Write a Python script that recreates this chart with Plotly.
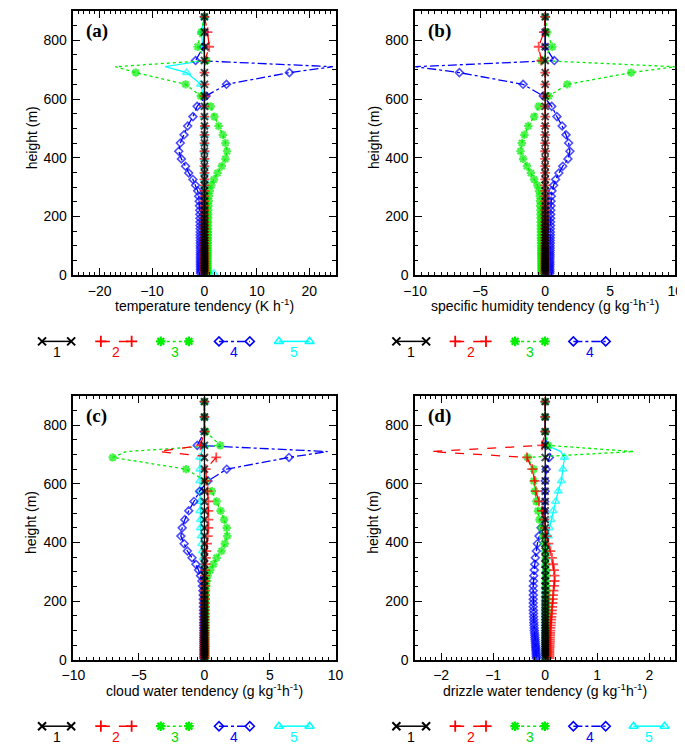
import plotly.graph_objects as go

# ---------------- data ----------------
HEIGHT = [880, 828, 778, 731, 710, 690, 650, 610, 575, 540,
          508, 478, 450, 422, 396, 371, 348, 326, 306, 287,
          269, 252, 236, 221, 207, 194, 181, 169, 158, 147,
          137, 127, 118, 109, 100, 92, 84, 76, 69, 62,
          55, 48, 42, 36, 30, 24, 18, 12, 6]

SERIES_NAMES = ["1", "2", "3", "4", "5"]

# (a) temperature tendency (K h-1)
A1 = [0.0, 0.0, 0.1, 0.0, 0.0, 0.0, 0.0, 0.0, 0.0, 0.0,
      0.0, 0.0, 0.0, 0.0, 0.0, 0.0, 0.0, 0.0, 0.0, 0.0,
      0.0, 0.0, 0.0, 0.0, 0.0, 0.0, 0.0, 0.0, 0.0, 0.0,
      0.0, 0.0, 0.0, 0.0, 0.0, 0.0, 0.0, 0.0, 0.0, 0.0,
      0.0, 0.0, 0.0, 0.0, 0.0, 0.0, 0.0, 0.0, 0.0]
A2 = [0.0, 0.6, 0.9, 0.1, 0.0, 0.0, 0.0, 0.0, 0.0, 0.0,
      0.1, 0.0, 0.0, 0.0, 0.0, 0.0, 0.0, 0.0, 0.0, 0.0,
      0.0, 0.0, 0.0, 0.0, 0.0, 0.0, 0.0, 0.0, 0.0, 0.0,
      0.0, 0.0, 0.0, 0.0, 0.0, 0.0, 0.0, 0.0, 0.0, 0.0,
      0.0, 0.0, 0.0, 0.0, 0.0, 0.0, 0.0, 0.0, 0.0]
A3 = [0.0, -0.6, -1.3, 0.4, -17.0, -13.1, -3.6, -0.7, 1.2, 1.9,
      2.7, 3.5, 4.0, 4.3, 4.0, 3.3, 2.5, 1.8, 1.3, 1.0,
      0.85, 0.8, 0.75, 0.72, 0.7, 0.7, 0.68, 0.67, 0.66, 0.65,
      0.65, 0.64, 0.64, 0.63, 0.63, 0.62, 0.62, 0.62, 0.61, 0.61,
      0.6, 0.6, 0.6, 0.6, 0.6, 0.6, 0.6, 0.6, 0.6]
A4 = [0.0, 0.0, -0.2, -1.7, 24.5, 16.2, 4.2, 0.3, -1.4, -2.2,
      -3.2, -3.9, -4.6, -4.9, -4.4, -3.6, -3.0, -2.2, -1.7, -1.3,
      -1.1, -1.0, -0.95, -0.9, -0.88, -0.86, -0.85, -0.84, -0.83, -0.82,
      -0.82, -0.81, -0.8, -0.8, -0.8, -0.79, -0.79, -0.78, -0.78, -0.78,
      -0.77, -0.77, -0.76, -0.76, -0.76, -0.75, -0.75, -0.75, -0.75]
A5 = [0.0, -0.6, -0.3, 0.0, -7.5, -3.4, -0.7, -0.2, 0.0, 0.0,
      0.0, 0.0, 0.0, 0.0, 0.0, 0.0, 0.0, 0.0, 0.0, 0.0,
      0.0, 0.0, 0.0, 0.0, 0.0, 0.0, 0.0, 0.0, 0.0, 0.0,
      0.0, 0.0, 0.0, 0.0, 0.0, 0.0, 0.0, 0.0, 0.0, 0.0,
      0.0, 0.0, 0.0, 0.0, 0.0, 0.0, 0.0, 0.0, 1.8]

# (b) specific humidity tendency (g kg-1 h-1)
B1 = [0.0, 0.0, 0.0, 0.0, 0.0, 0.0, 0.0, 0.0, 0.0, 0.0,
      0.0, 0.0, 0.0, 0.0, 0.0, 0.0, 0.0, 0.0, 0.0, 0.0,
      0.0, 0.0, 0.0, 0.0, 0.0, 0.0, 0.0, 0.0, 0.0, 0.0,
      0.0, 0.0, 0.0, 0.0, 0.0, 0.0, 0.0, 0.0, 0.0, 0.0,
      0.0, 0.0, 0.0, 0.0, 0.0, 0.0, 0.0, 0.0, 0.0]
B2 = [0.0, -0.1, -0.5, -0.3, 0.0, 0.0, 0.0, 0.0, 0.0, 0.0,
      0.0, 0.0, 0.0, 0.0, 0.0, 0.0, 0.0, 0.0, 0.0, 0.0,
      0.0, 0.0, 0.0, 0.0, 0.0, 0.0, 0.0, 0.0, 0.0, 0.0,
      0.0, 0.0, 0.0, 0.0, 0.0, 0.0, 0.0, 0.0, 0.0, 0.0,
      0.0, 0.0, 0.0, 0.0, 0.0, 0.0, 0.0, 0.0, 0.0]
B3 = [0.0, 0.15, 0.55, -0.3, 10.0, 6.6, 1.7, 0.27, -0.5, -0.85,
      -1.3, -1.6, -1.8, -1.9, -1.7, -1.4, -1.1, -0.85, -0.6, -0.48,
      -0.42, -0.4, -0.38, -0.37, -0.36, -0.35, -0.35, -0.34, -0.34, -0.33,
      -0.33, -0.33, -0.32, -0.32, -0.32, -0.31, -0.31, -0.31, -0.3, -0.3,
      -0.3, -0.3, -0.29, -0.29, -0.29, -0.29, -0.28, -0.28, -0.28]
B4 = [0.0, 0.0, 0.0, 0.7, -10.0, -6.6, -1.7, -0.15, 0.5, 0.9,
      1.3, 1.6, 1.8, 1.9, 1.75, 1.35, 1.05, 0.8, 0.65, 0.52,
      0.47, 0.45, 0.44, 0.43, 0.42, 0.42, 0.41, 0.41, 0.4, 0.4,
      0.4, 0.39, 0.39, 0.39, 0.38, 0.38, 0.38, 0.37, 0.37, 0.37,
      0.36, 0.36, 0.36, 0.36, 0.35, 0.35, 0.35, 0.35, 0.35]

# (c) cloud water tendency (g kg-1 h-1)
C1 = [0.0, 0.0, 0.0, 0.0, 0.0, 0.0, 0.0, 0.0, 0.0, 0.0,
      0.0, 0.0, 0.0, 0.0, 0.0, 0.0, 0.0, 0.0, 0.0, 0.0,
      0.0, 0.0, 0.0, 0.0, 0.0, 0.0, 0.0, 0.0, 0.0, 0.0,
      0.0, 0.0, 0.0, 0.0, 0.0, 0.0, 0.0, 0.0, 0.0, 0.0,
      0.0, 0.0, 0.0, 0.0, 0.0, 0.0, 0.0, 0.0, 0.0]
C2 = [0.0, 0.0, 0.0, -0.3, -3.5, 0.9, 0.1, 0.15, 0.25, 0.3,
      0.3, 0.3, 0.3, 0.25, 0.2, 0.15, 0.1, 0.08, 0.05, 0.04,
      0.03, 0.03, 0.03, 0.02, 0.02, 0.02, 0.02, 0.02, 0.02, 0.02,
      0.02, 0.02, 0.02, 0.02, 0.02, 0.02, 0.02, 0.02, 0.02, 0.02,
      0.02, 0.02, 0.02, 0.02, 0.02, 0.02, 0.02, 0.02, 0.02]
C3 = [0.0, 0.0, 0.1, 1.2, -6.0, -7.0, -1.4, 0.07, 0.56, 0.93,
      1.23, 1.5, 1.7, 1.74, 1.55, 1.3, 0.93, 0.69, 0.44, 0.25,
      0.18, 0.14, 0.12, 0.1, 0.1, 0.09, 0.09, 0.08, 0.08, 0.08,
      0.07, 0.07, 0.07, 0.07, 0.06, 0.06, 0.06, 0.06, 0.06, 0.05,
      0.05, 0.05, 0.05, 0.05, 0.05, 0.05, 0.05, 0.05, 0.05]
C4 = [0.0, 0.0, 0.0, -0.55, 9.4, 6.45, 1.7, 0.27, -0.37, -0.8,
      -1.2, -1.5, -1.7, -1.8, -1.55, -1.3, -0.95, -0.65, -0.45, -0.3,
      -0.2, -0.15, -0.12, -0.1, -0.09, -0.08, -0.08, -0.07, -0.07, -0.07,
      -0.06, -0.06, -0.06, -0.06, -0.05, -0.05, -0.05, -0.05, -0.05, -0.05,
      -0.04, -0.04, -0.04, -0.04, -0.04, -0.04, -0.04, -0.04, -0.04]
C5 = [0.0, 0.0, 0.0, 0.0, -0.2, -0.35, -0.35, -0.35, -0.35, -0.35,
      -0.35, -0.3, -0.3, -0.25, -0.2, -0.15, -0.1, -0.08, -0.06, -0.05,
      -0.04, -0.04, -0.03, -0.03, -0.03, -0.03, -0.02, -0.02, -0.02, -0.02,
      -0.02, -0.02, -0.02, -0.02, -0.02, -0.02, -0.02, -0.02, -0.02, -0.02,
      -0.02, -0.02, -0.02, -0.02, -0.02, -0.02, -0.02, -0.02, -0.02]

# (d) drizzle water tendency (g kg-1 h-1)
D1 = [0.0, 0.0, 0.0, 0.0, 0.0, 0.0, 0.0, 0.0, 0.0, 0.0,
      0.0, 0.0, 0.0, 0.0, 0.0, 0.0, 0.0, 0.0, 0.0, 0.0,
      0.0, 0.0, 0.0, 0.0, 0.0, 0.0, 0.0, 0.0, 0.0, 0.0,
      0.0, 0.0, 0.0, 0.0, 0.0, 0.0, 0.0, 0.0, 0.0, 0.0,
      0.0, 0.0, 0.0, 0.0, 0.0, 0.0, 0.0, 0.0, 0.0]
D2 = [0.0, 0.0, 0.0, -0.06, -2.2, -0.35, -0.25, -0.2, -0.18, -0.12,
      -0.06, -0.02, 0.0, 0.03, 0.06, 0.1, 0.13, 0.15, 0.17, 0.18,
      0.18, 0.17, 0.16, 0.15, 0.145, 0.14, 0.135, 0.13, 0.125, 0.12,
      0.115, 0.11, 0.105, 0.1, 0.1, 0.095, 0.095, 0.09, 0.09, 0.09,
      0.085, 0.085, 0.085, 0.08, 0.08, 0.08, 0.08, 0.08, 0.08]
D3 = [0.0, 0.0, 0.0, 0.06, 1.7, -0.34, -0.22, -0.22, -0.2, -0.17,
      -0.14, -0.11, -0.07, -0.04, -0.02, 0.0, 0.01, 0.01, 0.02, 0.02,
      0.02, 0.02, 0.03, 0.03, 0.03, 0.03, 0.03, 0.03, 0.04, 0.04,
      0.04, 0.04, 0.04, 0.04, 0.04, 0.05, 0.05, 0.05, 0.05, 0.05,
      0.05, 0.05, 0.05, 0.05, 0.05, 0.05, 0.05, 0.05, 0.05]
D4 = [0.0, 0.0, 0.0, 0.02, 0.12, 0.08, 0.02, 0.0, 0.0, -0.01,
      -0.02, -0.04, -0.08, -0.12, -0.15, -0.17, -0.19, -0.2, -0.21, -0.22,
      -0.225, -0.23, -0.23, -0.23, -0.23, -0.23, -0.23, -0.228, -0.225, -0.223,
      -0.22, -0.218, -0.215, -0.212, -0.21, -0.205, -0.2, -0.198, -0.195, -0.19,
      -0.188, -0.185, -0.182, -0.18, -0.178, -0.175, -0.173, -0.171, -0.17]
D5 = [0.0, 0.0, 0.0, 0.03, 0.3, 0.37, 0.34, 0.31, 0.25, 0.2,
      0.15, 0.11, 0.08, 0.06, 0.03, 0.02, 0.02, 0.01, 0.01, 0.01,
      0.0, 0.0, 0.0, 0.0, 0.0, 0.0, 0.0, 0.0, 0.0, 0.0,
      0.0, 0.0, 0.0, 0.0, 0.0, 0.0, 0.0, 0.0, 0.0, 0.0,
      0.0, 0.0, 0.0, 0.0, 0.0, 0.0, 0.0, 0.0, 0.0]

X_TITLES = [
    "temperature tendency (K h<sup>-1</sup>)",
    "specific humidity tendency (g kg<sup>-1</sup>h<sup>-1</sup>)",
    "cloud water tendency (g kg<sup>-1</sup>h<sup>-1</sup>)",
    "drizzle water tendency (g kg<sup>-1</sup>h<sup>-1</sup>)",
]
PANEL_LABELS = ["(a)", "(b)", "(c)", "(d)"]
Y_TITLE = "height (m)"

# ---------------- layout / style ----------------
W, HGT = 685, 745
FONT = "Liberation Sans, Arial, Helvetica, sans-serif"


def fx(p):
    return p / W


def fy(p):
    return 1 - p / HGT


STYLES = [
    dict(color="#000000", dash="solid", symbol="x-thin", size=7, lw=2.0),
    dict(color="#ff0000", dash="dash", symbol="cross-thin", size=7, lw=1.8),
    dict(color="#00ee00", dash="dot", symbol="asterisk-open", size=7, lw=2.2),
    dict(color="#0000ff", dash="dashdot", symbol="diamond-open", size=6, lw=1.6),
    dict(color="#00ffff", dash="solid", symbol="triangle-up-open", size=7, lw=1.6),
]

PANELS = [
    dict(px=(55, 325), py=(3, 270), xr=[-25, 25], dt=10, mdt=1,
         series=[A1, A2, A3, A4, A5]),
    dict(px=(407, 675), py=(3, 270), xr=[-10, 10], dt=5, mdt=0.5,
         series=[B1, B2, B3, B4]),
    dict(px=(55, 325), py=(392, 659), xr=[-10, 10], dt=5, mdt=0.5,
         series=[C1, C2, C3, C4, C5]),
    dict(px=(407, 675), py=(392, 659), xr=[-2.5, 2.5], dt=1, mdt=0.1,
         series=[D1, D2, D3, D4, D5]),
]

fig = go.Figure()
layout = dict(
    width=W, height=HGT, margin=dict(l=0, r=0, t=0, b=0),
    paper_bgcolor="white", plot_bgcolor="rgba(0,0,0,0)",
    showlegend=False, font=dict(family=FONT, size=14, color="black"),
)
annotations = []


# marker sizes: no marker on the 710 m level (line vertex only)
def sizes(sz):
    return [0 if h == 710 else sz for h in HEIGHT]


for i, p in enumerate(PANELS, start=1):
    xa, ya = f"x{i}", f"y{i}"
    n = len(p["series"])
    for k in reversed(range(n)):
        st = STYLES[k]
        fig.add_trace(go.Scatter(
            x=p["series"][k], y=HEIGHT, xaxis=xa, yaxis=ya,
            mode="lines+markers", name=SERIES_NAMES[k],
            line=dict(color=st["color"], dash=st["dash"], width=1.3),
            marker=dict(symbol=st["symbol"], size=sizes(st["size"]),
                        color=st["color"],
                        line=dict(color=st["color"], width=st["lw"])),
            cliponaxis=True,
        ))
    axis_common = dict(showline=True, linecolor="black", linewidth=1.5,
                       mirror="allticks", ticks="inside", tickwidth=1.2,
                       ticklen=7, tickcolor="black", showgrid=False,
                       zeroline=False, tickfont=dict(size=14, family=FONT))
    layout[f"xaxis{i}"] = dict(
        axis_common, domain=[fx(p["px"][0]), fx(p["px"][1])],
        range=p["xr"], dtick=p["dt"], tick0=0, anchor=ya,
        ticklabelstandoff=2,
        minor=dict(ticks="inside", ticklen=3.5, dtick=p["mdt"],
                   tickcolor="black", tickwidth=1),
    )
    layout[f"yaxis{i}"] = dict(
        axis_common, domain=[fy(p["py"][1]), fy(p["py"][0])],
        range=[0, 900], dtick=200, tick0=0, anchor=xa,
        ticklabelstandoff=2,
        minor=dict(ticks="inside", ticklen=3.5, dtick=50,
                   tickcolor="black", tickwidth=1),
    )
    cx = (p["px"][0] + p["px"][1]) / 2
    # x-axis title
    annotations.append(dict(
        text=X_TITLES[i - 1], xref="paper", yref="paper",
        x=fx(cx), y=fy(p["py"][1] + 30), xanchor="center", yanchor="middle",
        showarrow=False, font=dict(size=14, family=FONT)))
    # y-axis title
    annotations.append(dict(
        text=Y_TITLE, xref="paper", yref="paper", textangle=-90,
        x=fx(p["px"][0] - 43), y=fy(p["py"][0] + 128),
        xanchor="center", yanchor="middle",
        showarrow=False, font=dict(size=14, family=FONT)))
    # panel label
    annotations.append(dict(
        text="<b>" + PANEL_LABELS[i - 1] + "</b>", xref="paper", yref="paper",
        x=fx(p["px"][0] + 11), y=fy(p["py"][0] + 20),
        xanchor="left", yanchor="middle", showarrow=False,
        font=dict(size=19, family="Liberation Serif, Times New Roman, serif")))

# ---------------- legends (below each panel) ----------------
layout["xaxis5"] = dict(domain=[0, 1], range=[0, W], visible=False,
                        anchor="y5", fixedrange=True)
layout["yaxis5"] = dict(domain=[0, 1], range=[HGT, 0], visible=False,
                        anchor="x5", fixedrange=True)

LEG_LEFT = [(22.7, 52.7), (83.3, 115), (145, 174), (205, 236.7), (266.7, 298.3)]
LEG_RIGHT = [(387.7, 418.3), (448.3, 480), (510, 540.7), (570, 603.3), (632, 664)]
LEGENDS = [
    (LEG_LEFT, 337, 5),
    (LEG_RIGHT, 337, 4),
    (LEG_LEFT, 726, 5),
    (LEG_RIGHT, 726, 5),
]
for pos, yy, n in LEGENDS:
    for k in range(n):
        st = STYLES[k]
        x0, x1 = pos[k]
        fig.add_trace(go.Scatter(
            x=[x0, x1], y=[yy, yy], xaxis="x5", yaxis="y5",
            mode="lines+markers", hoverinfo="skip",
            line=dict(color=st["color"], dash=st["dash"], width=1.5),
            marker=dict(symbol=st["symbol"], size=st["size"] + 1,
                        color=st["color"],
                        line=dict(color=st["color"], width=st["lw"])),
            cliponaxis=False,
        ))
        annotations.append(dict(
            text=SERIES_NAMES[k], xref="paper", yref="paper",
            x=fx((x0 + x1) / 2), y=fy(yy + 11), xanchor="center",
            yanchor="middle", showarrow=False,
            font=dict(size=14, family=FONT,
                      color=st["color"] if k != 2 else "#00dd00")))

layout["annotations"] = annotations
fig.update_layout(**layout)
fig.write_html("out.html")
